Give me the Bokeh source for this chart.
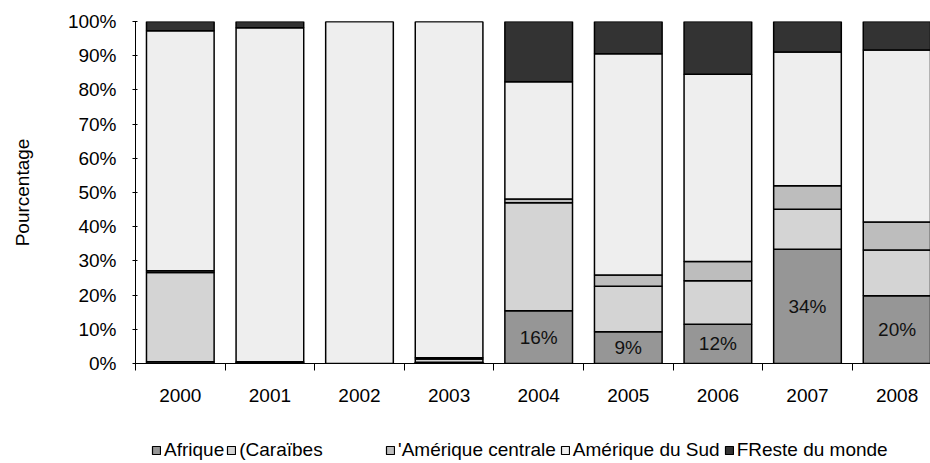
from bokeh.plotting import figure
from bokeh.layouts import column
from bokeh.models import (Range1d, FixedTicker, PrintfTickFormatter, Legend,
                          LegendItem, ColumnDataSource)
from bokeh.embed import file_html
from bokeh.resources import INLINE
from bokeh.core.properties import value

# ---- data ----
years = ["2000", "2001", "2002", "2003", "2004", "2005", "2006", "2007", "2008"]
afrique = [0.5, 0.3, 0.0, 0.4, 15.4, 9.3, 11.5, 33.4, 19.8]
caraibes = [26.1, 0.2, 0.0, 0.9, 31.6, 13.3, 12.7, 11.7, 13.4]
amerique_centrale = [0.5, 0.0, 0.0, 0.4, 1.1, 3.3, 5.6, 6.9, 8.2]
amerique_sud = [70.2, 97.7, 100.0, 98.3, 34.3, 64.7, 54.8, 39.1, 50.3]
reste_monde = [2.7, 1.8, 0.0, 0.0, 17.6, 9.4, 15.4, 8.9, 8.3]
series_names = ["Afrique", "(Caraïbes", "'Amérique centrale", "Amérique du Sud", "FReste du monde"]
label_years = ["2004", "2005", "2006", "2007", "2008"]
label_texts = ["16%", "9%", "12%", "34%", "20%"]
y_ticks = [0, 10, 20, 30, 40, 50, 60, 70, 80, 90, 100]

FONT = "Liberation Sans"
FS = "19px"
colors = ["#969696", "#d4d4d4", "#bdbdbd", "#eeeeee", "#333333"]
keys = ["afrique", "caraibes", "centrale", "sud", "reste"]

xs = list(range(len(years)))
src = ColumnDataSource(dict(x=xs, afrique=afrique, caraibes=caraibes,
                            centrale=amerique_centrale, sud=amerique_sud,
                            reste=reste_monde))

p = figure(width=930, height=430, output_backend="svg", toolbar_location=None,
           x_range=Range1d(-0.5, 8.373), y_range=Range1d(0, 100),
           min_border_left=135, min_border_right=0, min_border_top=21,
           min_border_bottom=67)
p.outline_line_color = None
p.xgrid.visible = False
p.ygrid.visible = False

rs = p.vbar_stack(keys, x="x", width=0.755, source=src, fill_color=colors,
                  line_color="black", line_width=1.5)

# data labels on the Afrique segment
lx = [years.index(y) for y in label_years]
ly = [afrique[i] / 2 for i in lx]
p.text(x=lx, y=ly, text=label_texts, text_align="center", text_baseline="middle",
       text_font=value(FONT), text_font_size=FS, text_color="#111111")

# y axis
ya = p.yaxis[0]
ya.ticker = FixedTicker(ticks=y_ticks)
ya.formatter = PrintfTickFormatter(format="%d%%")
ya.major_tick_in = 2
ya.major_tick_out = 3
ya.minor_tick_in = 0
ya.minor_tick_out = 0
ya.major_label_standoff = 16
ya.axis_line_color = "black"
ya.major_tick_line_color = "black"
ya.major_label_text_font = FONT
ya.major_label_text_font_size = FS
ya.major_label_text_color = "black"
ya.axis_label = "Pourcentage"
ya.axis_label_text_font = FONT
ya.axis_label_text_font_size = FS
ya.axis_label_text_font_style = "normal"
ya.axis_label_text_color = "black"
ya.axis_label_standoff = 32

# x axis: labels at centres, ticks at boundaries
xa = p.xaxis[0]
xa.ticker = FixedTicker(ticks=xs, minor_ticks=[i - 0.5 for i in range(len(years) + 1)])
xa.major_label_overrides = {i: y for i, y in zip(xs, years)}
xa.major_tick_in = 0
xa.major_tick_out = 0
xa.minor_tick_in = 0
xa.minor_tick_out = 7
xa.minor_tick_line_color = "black"
xa.axis_line_color = "black"
xa.major_label_standoff = 18
xa.major_label_text_font = FONT
xa.major_label_text_font_size = FS
xa.major_label_text_color = "black"

# ---- legend strip (separate small figure so nothing is clipped) ----
lf = figure(width=930, height=33, output_backend="svg", toolbar_location=None,
            x_range=Range1d(0, 1), y_range=Range1d(0, 1),
            x_axis_type=None, y_axis_type=None,
            min_border_left=0, min_border_right=0, min_border_top=0,
            min_border_bottom=0)
lf.xgrid.visible = False
lf.ygrid.visible = False
lf.outline_line_color = None
# proxy glyphs (zero-size) that only provide the legend swatches
dummies = [lf.vbar(x=[0.5], top=[0.5], bottom=[0.5], width=0, fill_color=c,
                   line_color="black", line_width=1.2) for c in colors]

def make_legend(idx, loc, spacing):
    return Legend(items=[LegendItem(label=series_names[i], renderers=[dummies[i]]) for i in idx],
                  orientation="horizontal", location=loc,
                  border_line_color=None, background_fill_alpha=0, padding=0,
                  margin=0, spacing=spacing, label_standoff=3, glyph_width=10,
                  glyph_height=10, label_height=20,
                  label_text_font=FONT, label_text_font_size=FS,
                  label_text_color="black")

# the legend strip's frame lines up with the main frame (x = 135 px)
lf.add_layout(make_legend((0, 1), (16, 2), 2))
lf.add_layout(make_legend((2, 3, 4), (250, 2), 4))

layout = column(p, lf, spacing=0)
open("out.html", "w").write(file_html(layout, INLINE))
